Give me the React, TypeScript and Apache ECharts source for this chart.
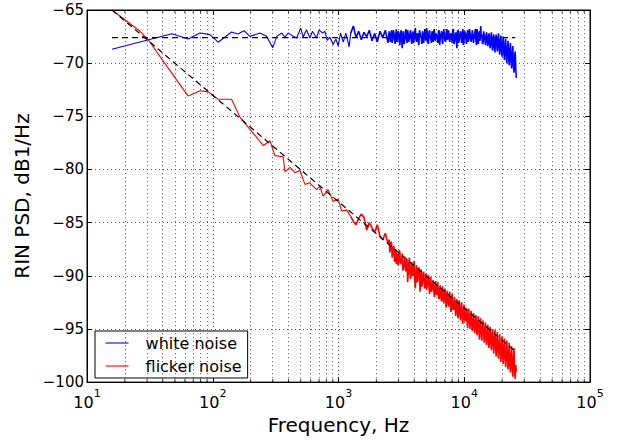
import React, { useEffect, useRef } from "react";
import * as echarts from "echarts";

// ---- data ----
const whiteLowFreq = [15.8, 47.2, 63.8, 79.2, 95, 110.5, 141, 159, 177, 198, 237, 268, 300, 323, 354, 375, 398, 437, 465, 500, 524, 556, 592, 621, 669, 702, 748, 780, 813, 852, 907, 954, 994, 1039, 1090, 1144, 1215];
const whiteLowDb = [-68.7, -67.23, -67.72, -67.17, -67.32, -68.03, -67.07, -67.26, -66.95, -67.48, -67.17, -67.48, -68.56, -67.48, -67.17, -67.54, -67.17, -67.48, -67.63, -66.7, -67.54, -66.86, -67.63, -67.0, -67.63, -66.86, -67.17, -67.0, -67.85, -67.54, -68.25, -67.73, -68.4, -67.17, -68.03, -67.17, -68.47];

const flickerLowFreq = [15.8, 26.4, 30.7, 39.2, 63.8, 79.2, 92.4, 110, 141, 165, 210, 253, 285, 312, 363, 375, 412, 451, 494, 541, 592, 669, 710, 754, 827, 907, 994, 1058, 1160, 1215];
const flickerLowDb = [-65.0, -67.0, -67.8, -69.6, -73.1, -72.6, -72.7, -73.4, -73.4, -75.1, -76.6, -77.75, -77.3, -78.7, -78.8, -80.2, -79.8, -80.3, -80.1, -81.4, -81.25, -81.9, -81.6, -82.5, -81.9, -83.0, -82.8, -83.9, -83.8, -84.2];

const denseFreq = [
  1250, 1313, 1378, 1447, 1519, 1595, 1675, 1759, 1847, 1939, 2036, 2138, 2245, 2357, 2475,
  2529, 2585, 2642, 2700, 2760, 2820, 2882, 2946, 3011, 3077,
  3145, 3214, 3285, 3357, 3431, 3506, 3583, 3662, 3743, 3825,
  3909, 3995, 4083, 4173, 4265, 4359, 4455, 4553, 4653, 4755,
  4860, 4967, 5076, 5188, 5302, 5418, 5538, 5659, 5784, 5911,
  6041, 6174, 6310, 6449, 6591, 6736, 6884, 7035, 7190, 7348,
  7510, 7675, 7844, 8016, 8193, 8373, 8557, 8745, 8938, 9134,
  9335, 9541, 9751, 9965, 10184, 10408, 10637, 10871, 11111, 11355,
  11605, 11860, 12121, 12388, 12660, 12939, 13224, 13514, 13812, 14116,
  14426, 14744, 15068, 15400, 15738, 16085, 16439, 16800, 17170, 17548,
  17934, 18328, 18731, 19144, 19565, 19995, 20435, 20885, 21344, 21814,
  22294, 22784, 23285, 23798, 24321, 24856, 25403, 25962,
];
const whiteDenseDb = [
  -67.2, -66.5, -67.6, -67.0, -67.8, -67.1, -67.5, -66.9, -67.9, -67.2, -68.0, -67.0, -67.6, -66.9, -68.1,
  -67.0, -68.0, -66.9, -67.8, -67.2, -68.2, -66.8, -67.9, -67.1, -68.3,
  -66.9, -68.6, -67.0, -67.9, -66.8, -68.1, -67.3, -67.7, -66.9, -68.2,
  -67.0, -67.8, -66.7, -68.0, -67.2, -68.3, -66.9, -67.6, -67.0, -68.1,
  -66.8, -67.9, -67.1, -68.2, -66.9, -67.7, -67.0, -68.0, -66.8, -67.8,
  -67.2, -68.1, -66.9, -67.6, -67.0, -68.2, -66.8, -67.9, -67.1, -67.8,
  -66.9, -68.0, -67.2, -68.1, -66.8, -67.9, -67.1, -68.6, -66.9, -67.8,
  -67.0, -68.1, -66.8, -67.9, -67.2, -68.2, -66.9, -67.8, -67.1, -68.0,
  -66.9, -68.1, -67.2, -67.9, -66.8, -68.2, -67.0, -66.5, -67.3, -68.1,
  -67.0, -68.3, -67.1, -68.4, -67.2, -68.6, -67.1, -68.8, -67.3, -69.0,
  -67.3, -68.9, -67.2, -69.2, -67.4, -69.4, -67.5, -69.7, -67.7, -70.0,
  -67.9, -70.2, -68.1, -70.5, -68.4, -70.9, -68.9, -71.4,
];
const flickerDenseDb = [
  -84.4, -84.9, -85.2, -84.6, -84.2, -84.5, -85.7, -85.0, -85.5, -85.9, -85.2, -86.3, -86.6, -86.0, -87.0,
  -86.6, -87.5, -86.9, -87.8, -87.2, -88.3, -88.9, -87.9, -88.6, -87.8,
  -88.9, -87.9, -89.3, -88.2, -89.6, -88.4, -89.9, -88.3, -90.3, -88.7,
  -90.0, -88.6, -91.2, -89.0, -90.4, -89.2, -91.5, -89.4, -90.8, -89.6,
  -91.2, -89.8, -90.9, -89.9, -91.7, -90.1, -91.3, -90.4, -92.0, -90.5,
  -91.8, -90.6, -92.2, -90.9, -92.4, -91.0, -92.6, -91.2, -93.0, -91.4,
  -92.9, -91.5, -93.4, -91.7, -93.2, -92.0, -93.8, -92.2, -94.0, -92.3,
  -94.2, -92.5, -94.5, -92.7, -94.3, -93.0, -94.9, -93.1, -95.0, -93.3,
  -95.2, -93.5, -95.4, -93.7, -95.6, -93.8, -96.0, -94.0, -96.1, -94.2,
  -96.3, -94.4, -96.5, -94.6, -96.8, -94.8, -97.0, -95.0, -97.3, -95.1,
  -97.6, -95.3, -97.8, -95.5, -98.1, -95.7, -98.3, -95.9, -98.6, -96.1,
  -98.8, -96.3, -99.1, -96.6, -99.5, -96.8, -99.7, -99.0,
];

// in-between FFT bins of the dense part
const midFreq = [
  2557, 2613, 2671, 2730, 2790, 2851, 2914, 2978, 3044, 3111,
  3180, 3249, 3321, 3394, 3469, 3545, 3622, 3702, 3784, 3867,
  3952, 4039, 4128, 4219, 4312, 4407, 4504, 4603, 4704, 4807,
  4913, 5022, 5132, 5245, 5360, 5478, 5599, 5721, 5848, 5976,
  6107, 6242, 6379, 6520, 6664, 6810, 6960, 7112, 7269, 7429,
  7593, 7759, 7930, 8104, 8283, 8465, 8651, 8841, 9036, 9234,
  9438, 9646, 9858, 10075, 10296, 10522, 10754, 10991, 11233, 11480,
  11733, 11990, 12254, 12524, 12799, 13081, 13369, 13663, 13964, 14271,
  14585, 14906, 15234, 15569, 15911, 16262, 16620, 16985, 17359, 17741,
  18131, 18530, 18937, 19355, 19780, 20215, 20660, 21115, 21579, 22054,
  22539, 23035, 23541, 24060, 24589, 25129, 25682,
];
const whiteMidDb = [
  -67.5, -67.3, -68.1, -66.9, -67.7, -67.4, -68.0, -67.0, -67.6, -67.3,
  -67.8, -67.2, -68.2, -67.4, -67.6, -66.9, -68.0, -67.2, -67.7, -67.4,
  -68.1, -67.1, -67.7, -67.3, -67.9, -66.9, -67.5, -68.2, -67.3, -67.6,
  -67.4, -66.7, -68.0, -67.2, -67.6, -68.1, -67.3, -67.0, -67.9, -67.2,
  -67.6, -67.0, -68.3, -67.3, -67.8, -67.1, -67.5, -68.0, -66.8, -67.5,
  -67.7, -67.3, -67.6, -66.9, -68.2, -67.4, -67.9, -67.0, -68.1, -67.3,
  -67.5, -67.2, -68.3, -67.0, -67.6, -67.3, -68.0, -66.8, -67.7, -67.4,
  -67.6, -67.4, -66.8, -68.3, -67.5, -67.2, -67.9, -67.6, -68.2, -67.0,
  -67.8, -67.4, -68.0, -67.5, -68.2, -67.6, -68.3, -67.7, -68.5, -67.9,
  -68.3, -67.8, -68.6, -68.0, -68.8, -68.1, -69.0, -68.3, -69.3, -68.6,
  -69.5, -68.8, -69.8, -69.2, -70.2, -69.6, -70.5,
];
const flickerMidDb = [
  -87.8, -86.8, -88.3, -87.3, -88.7, -87.5, -88.4, -89.0, -87.6, -88.9,
  -88.5, -89.5, -88.9, -89.1, -88.6, -90.6, -88.8, -89.7, -89.2, -89.9,
  -89.3, -90.4, -89.7, -90.6, -89.5, -90.2, -90.0, -91.0, -89.9, -90.5,
  -90.3, -91.3, -90.5, -91.0, -90.7, -91.5, -90.9, -91.4, -91.0, -91.6,
  -91.1, -91.9, -91.3, -92.0, -91.5, -92.3, -91.7, -92.1, -91.8, -92.5,
  -92.2, -92.6, -92.4, -93.0, -92.7, -93.1, -92.8, -93.4, -92.9, -93.5,
  -93.2, -93.9, -93.4, -94.1, -93.6, -94.3, -93.8, -94.2, -93.9, -94.6,
  -94.1, -94.8, -94.4, -95.0, -94.6, -95.2, -94.7, -95.4, -95.0, -95.3,
  -95.1, -95.8, -95.4, -96.0, -95.6, -96.2, -95.8, -96.4, -96.0, -96.6,
  -96.2, -97.0, -96.5, -97.1, -96.7, -97.4, -96.9, -97.6, -97.2, -97.9,
  -97.5, -98.3, -97.7, -98.6, -98.0, -98.9, -98.4,
];

const fitFreq = [15.8, 25400];
const whiteFitDb = [-67.6, -67.6];
const flickerFitDb = [-65.0, -97.1];

const minorFreq = [
  20, 30, 40, 50, 60, 70, 80, 90,
  200, 300, 400, 500, 600, 700, 800, 900,
  2000, 3000, 4000, 5000, 6000, 7000, 8000, 9000,
  20000, 30000, 40000, 50000, 60000, 70000, 80000, 90000,
];

const legendNames = ["white noise", "flicker noise"];
const xTitle = "Frequency, Hz";
const yTitle = "RIN PSD, dB1/Hz";

// ---- chart ----
const FONT = "DejaVu Sans";
const SPLIT_FREQ = 1230; // where the spectrum becomes a dense band
const zip = (xs: number[], ys: number[]) => xs.map((x, i) => [x, ys[i]]);
const byFreq = (a: number[], b: number[]) => a[0] - b[0];
const dotted = { color: "#333", width: 0.8, type: [1, 3] as any };

const whiteAll = [...zip(whiteLowFreq, whiteLowDb), ...zip(denseFreq, whiteDenseDb), ...zip(midFreq, whiteMidDb)].sort(byFreq);
const flickerAll = [...zip(flickerLowFreq, flickerLowDb), ...zip(denseFreq, flickerDenseDb), ...zip(midFreq, flickerMidDb)].sort(byFreq);

// split into the sparse low part and the dense band (sharing one boundary point)
const splitAt = (d: number[][]) => {
  const k = d.findIndex((p) => p[0] > SPLIT_FREQ);
  return [d.slice(0, k + 1), d.slice(k)];
};
const [whiteSparse, whiteBand] = splitAt(whiteAll);
const [flickerSparse, flickerBand] = splitAt(flickerAll);

const minus = (v: number) => (v < 0 ? "\u2212" + String(-v) : String(v));

const lineSeries = (name: string, data: number[][], color: string, width: number) => ({
  name,
  type: "line",
  data,
  symbol: "none",
  lineStyle: { color, width },
  itemStyle: { color },
  z: 3,
});

function buildOption(): any {
  return {
    animation: false,
    backgroundColor: "#fff",
    grid: {
      left: 87,
      right: 28,
      top: 10,
      bottom: 53,
      show: true,
      borderColor: "#000",
      borderWidth: 1,
      backgroundColor: "transparent",
    },
    legend: {
      data: legendNames,
      orient: "vertical",
      left: 95,
      top: 331,
      padding: [4, 6, 4, 10],
      itemWidth: 23,
      itemHeight: 16,
      itemGap: 7,
      borderColor: "#000",
      borderWidth: 1,
      borderRadius: 0,
      backgroundColor: "#fff",
      itemStyle: { opacity: 0, borderWidth: 0, color: "transparent", borderColor: "transparent" },
      lineStyle: { width: 1.1 },
      textStyle: { fontFamily: FONT, fontSize: 16, color: "#000", padding: [0, 0, 0, 12] },
    },
    xAxis: [
      {
        type: "log",
        logBase: 10,
        min: 10,
        max: 100000,
        position: "bottom",
        name: xTitle,
        nameLocation: "middle",
        nameGap: 28,
        nameTextStyle: { fontFamily: FONT, fontSize: 20, color: "#000" },
        axisLine: { show: true, lineStyle: { color: "#000", width: 1 } },
        axisTick: { show: true, inside: true, length: 5, lineStyle: { color: "#000" } },
        axisLabel: {
          margin: 6,
          formatter: (v: number) => `{b|10}{s|${Math.round(Math.log10(v))}}`,
          rich: {
            b: { fontFamily: FONT, fontSize: 16, color: "#000", lineHeight: 22, verticalAlign: "bottom" },
            s: { fontFamily: FONT, fontSize: 11, color: "#000", lineHeight: 12, verticalAlign: "top" },
          },
        },
        splitLine: { show: true, lineStyle: dotted },
      },
      {
        type: "log",
        logBase: 10,
        min: 10,
        max: 100000,
        position: "top",
        axisLine: { show: true, lineStyle: { color: "#000", width: 1 } },
        axisTick: { show: true, inside: true, length: 5, lineStyle: { color: "#000" } },
        axisLabel: { show: false },
        splitLine: { show: false },
      },
    ],
    yAxis: [
      {
        type: "value",
        min: -100,
        max: -65,
        interval: 5,
        position: "left",
        name: yTitle,
        nameLocation: "middle",
        nameGap: 52,
        nameRotate: 90,
        nameTextStyle: { fontFamily: FONT, fontSize: 20, color: "#000" },
        axisLine: { show: true, lineStyle: { color: "#000", width: 1 } },
        axisTick: { show: true, inside: true, length: 5, lineStyle: { color: "#000" } },
        axisLabel: { margin: 3, fontFamily: FONT, fontSize: 15, color: "#000", formatter: minus },
        splitLine: { show: true, lineStyle: dotted },
      },
      {
        type: "value",
        min: -100,
        max: -65,
        interval: 5,
        position: "right",
        axisLine: { show: true, lineStyle: { color: "#000", width: 1 } },
        axisTick: { show: true, inside: true, length: 5, lineStyle: { color: "#000" } },
        axisLabel: { show: false },
        splitLine: { show: false },
      },
    ],
    series: [
      {
        name: "minor-grid",
        type: "line",
        data: zip(fitFreq, whiteFitDb),
        symbol: "none",
        silent: true,
        lineStyle: { opacity: 0 },
        z: 1,
        markLine: {
          silent: true,
          symbol: "none",
          label: { show: false },
          lineStyle: dotted,
          data: minorFreq.map((f) => ({ xAxis: f })),
        },
      },
      lineSeries(legendNames[0], whiteSparse, "#0000ff", 1.1),
      lineSeries(legendNames[0], whiteBand, "#0000ff", 1.6),
      lineSeries(legendNames[1], flickerSparse, "#ff0000", 1.1),
      lineSeries(legendNames[1], flickerBand, "#ff0000", 1.6),
      {
        name: "white fit",
        type: "line",
        data: zip(fitFreq, whiteFitDb),
        symbol: "none",
        silent: true,
        lineStyle: { color: "#000", width: 1.2, type: [6, 4] },
        z: 4,
      },
      {
        name: "flicker fit",
        type: "line",
        data: zip(fitFreq, flickerFitDb),
        symbol: "none",
        silent: true,
        lineStyle: { color: "#000", width: 1.2, type: [6, 4] },
        z: 4,
      },
      {
        name: "minor-ticks-bottom",
        type: "scatter",
        data: minorFreq.map((f) => [f, -100]),
        symbol: "rect",
        symbolSize: [1, 3],
        symbolOffset: [0, -1.5],
        itemStyle: { color: "#000" },
        silent: true,
        clip: false,
        z: 5,
      },
      {
        name: "minor-ticks-top",
        type: "scatter",
        data: minorFreq.map((f) => [f, -65]),
        symbol: "rect",
        symbolSize: [1, 3],
        symbolOffset: [0, 1.5],
        itemStyle: { color: "#000" },
        silent: true,
        clip: false,
        z: 5,
      },
    ],
  };
}

export default function App() {
  const ref = useRef<HTMLDivElement>(null);
  useEffect(() => {
    if (!ref.current) return;
    const chart = echarts.init(ref.current, null, { renderer: "svg" });
    chart.setOption(buildOption());
    return () => chart.dispose();
  }, []);
  return (
    <div
      ref={ref}
      style={{ position: "fixed", left: 0, top: 0, width: 618, height: 440, background: "#fff" }}
    />
  );
}
